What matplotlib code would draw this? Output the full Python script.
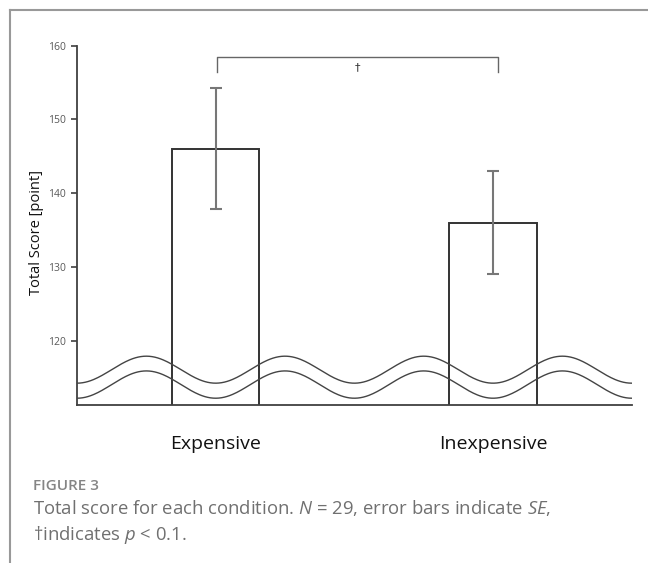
import numpy as np
import matplotlib.pyplot as plt
from matplotlib.lines import Line2D

plt.rcParams['font.family'] = ['Open Sans', 'DejaVu Sans']
plt.rcParams['mathtext.fontset'] = 'custom'
plt.rcParams['mathtext.rm'] = 'Open Sans'
plt.rcParams['mathtext.it'] = 'Open Sans:italic'

conditions = ["Expensive", "Inexpensive"]
scores = [146.0, 136.0]
se = [8.2, 7.0]
yticks = [120, 130, 140, 150, 160]

fig = plt.figure(figsize=(6.48, 5.63), dpi=100)
ax = fig.add_axes([77 / 648, 1 - 405 / 563, (631.7 - 77) / 648, (405 - 45.7) / 563])

x = np.arange(len(conditions))
ax.bar(x, scores, width=0.314, fill=False, edgecolor="#333333", linewidth=1.4, zorder=2)
ax.errorbar(x, scores, yerr=se, fmt="none", ecolor="#777777", elinewidth=1.5,
            capsize=4, capthick=1.5, zorder=4)

# wavy axis-break decoration
xs = np.linspace(-0.5, 1.5, 400)
ax.plot(xs, 116.07 - 1.83 * np.cos(4 * np.pi * xs), color="#444444", lw=1, zorder=3)
ax.plot(xs, 114.05 - 1.85 * np.cos(4 * np.pi * xs), color="#444444", lw=1, zorder=3)

# significance bracket
bx0, bx1, btop, bend = 0.005, 1.017, 158.5, 156.5
ax.plot([bx0, bx0, bx1, bx1], [bend, btop, btop, bend], color="#666666", lw=1, zorder=3)
ax.text((bx0 + bx1) / 2, 157.1, "†", ha="center", va="center", fontsize=8,
        color="#333333", family=['DejaVu Sans'])

ax.set_xlim(-0.5, 1.5)
ax.set_ylim(111.28, 160)
ax.set_yticks(yticks)
ax.set_yticklabels([str(t) for t in yticks], fontsize=7.5, color="#595959")
ax.tick_params(axis="y", length=4, width=1.2, color="#404040", pad=4)
ax.set_xticks([])
for s in ["top", "right"]:
    ax.spines[s].set_visible(False)
for s in ["left", "bottom"]:
    ax.spines[s].set_color("#404040")
    ax.spines[s].set_linewidth(1.3)

for xi, name in zip(x, conditions):
    ax.text(xi, 111.28 - (444 - 405) / 7.375, name, ha="center", va="center",
            fontsize=14, color="#111111")

fig.text(36.7 / 648, 1 - 232.5 / 563, "Total Score [point]", rotation=90,
         ha="center", va="center", fontsize=10.5, color="#111111")

# caption
fig.text(33 / 648, 1 - 485.7 / 563, "FIGURE 3", ha="left", va="center",
         fontsize=11, fontweight="semibold", color="#858585")
fig.text(33 / 648, 1 - 507.7 / 563,
         "Total score for each condition. $N$ = 29, error bars indicate $SE$,",
         ha="left", va="center", fontsize=13.3, color="#707070")
fig.text(33 / 648, 1 - 535 / 563, "†indicates $p$ < 0.1.",
         ha="left", va="center", fontsize=13.3, color="#707070")

# outer frame
fig.add_artist(Line2D([9.5 / 648, 1], [1 - 10 / 563, 1 - 10 / 563], color="#999999", lw=1.5))
fig.add_artist(Line2D([9.5 / 648, 9.5 / 648], [0, 1 - 10 / 563], color="#999999", lw=1.5))

fig.savefig("out.png", dpi=100)
